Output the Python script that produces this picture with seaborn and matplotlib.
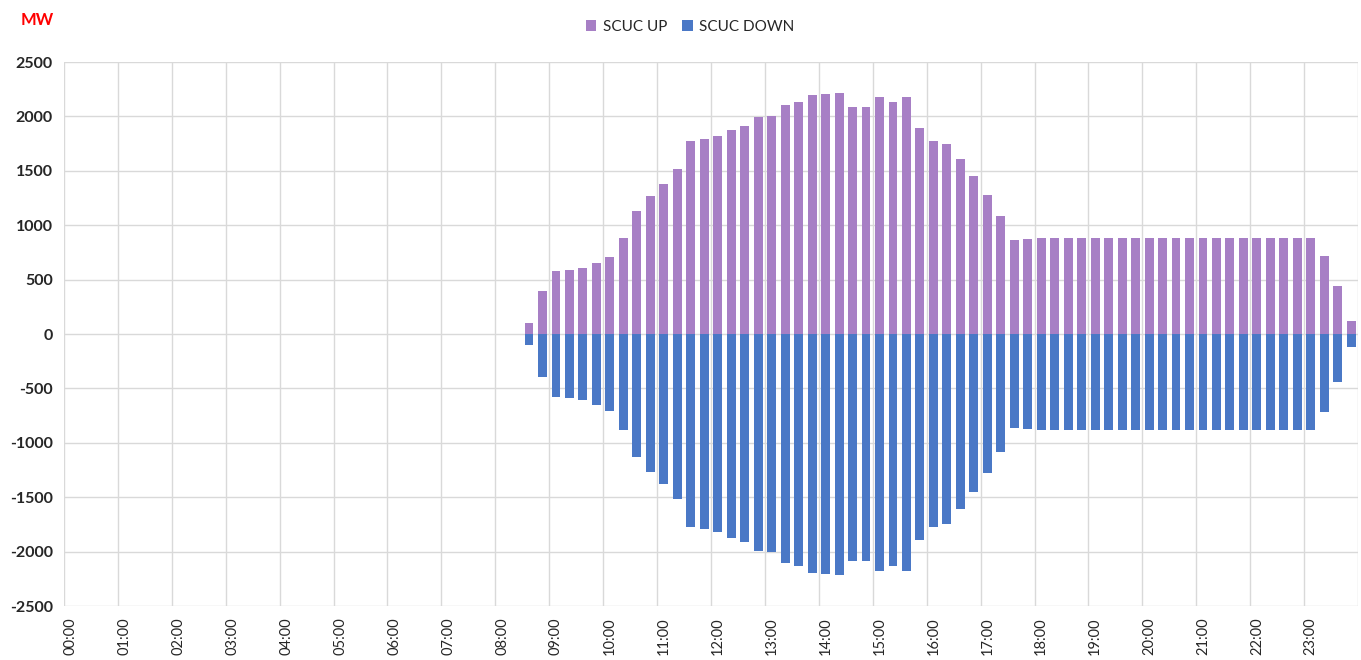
import seaborn as sns
import pandas as pd
import numpy as np
import matplotlib.pyplot as plt

# quarter-hour slots for one day
slots = ['%02d:%02d' % (h, m) for h in range(24) for m in (0, 15, 30, 45)]
hour_labels = ['%02d:00' % h for h in range(24)]

# SCUC UP (MW), 96 slots
scuc_up = [0] * 33 + [3, 105, 398,
           579, 588, 607, 653,
           710, 879, 1127, 1271,
           1379, 1519, 1777, 1795,
           1816, 1871, 1915, 1991,
           2006, 2107, 2129, 2193,
           2209, 2215, 2089, 2086,
           2175, 2132, 2175, 1896,
           1770, 1749, 1608, 1455,
           1274, 1087, 867, 876] + [882] * 21 + [713, 438, 116]

# SCUC DOWN (MW), 96 slots
scuc_down = [0] * 33 + [0, -105, -398,
             -579, -588, -607, -653,
             -710, -879, -1127, -1271,
             -1379, -1519, -1777, -1795,
             -1816, -1871, -1915, -1991,
             -2006, -2107, -2129, -2193,
             -2209, -2215, -2089, -2086,
             -2175, -2132, -2175, -1896,
             -1770, -1749, -1608, -1455,
             -1274, -1087, -867, -876] + [-882] * 21 + [-713, -438, -116]

df = pd.DataFrame({'time': slots, 'up': scuc_up, 'down': scuc_down})

sns.set_style('white')
plt.rcParams['font.family'] = ['Lato', 'DejaVu Sans']

fig = plt.figure(figsize=(13.61, 6.6), dpi=100)
ax = fig.add_axes([64 / 1361, 1 - 606 / 660, (1358 - 64) / 1361, (606 - 62) / 660])

grid_c = '#D9D9D9'
for y in range(-2500, 2501, 500):
    ax.axhline(y, color=grid_c, lw=1, zorder=0)
for k in range(0, 97, 4):
    ax.axvline(k - 0.5, color=grid_c, lw=1, zorder=0)

sns.barplot(data=df, x='time', y='up', color='#A77FC5', saturation=1,
            width=0.66, ax=ax, label='SCUC UP', linewidth=0, zorder=2)
sns.barplot(data=df, x='time', y='down', color='#4A78C6', saturation=1,
            width=0.66, ax=ax, label='SCUC DOWN', linewidth=0, zorder=2)

ax.set_xlim(-0.5, 95.5)
ax.set_ylim(-2500, 2500)
ax.set_yticks(range(-2500, 2501, 500))
ax.set_yticklabels([str(v) for v in range(-2500, 2501, 500)], fontsize=11.5, fontweight='bold')
ax.set_xticks(range(0, 96, 4))
ax.set_xticklabels(hour_labels, rotation=90, fontsize=10.5)
ax.tick_params(axis='both', length=0, pad=8)
ax.set_xlabel('')
ax.set_ylabel('')
for s in ax.spines.values():
    s.set_visible(False)

handles, labels = ax.get_legend_handles_labels()
if ax.legend_:
    ax.legend_.remove()
fig.legend(handles, labels, loc='center', bbox_to_anchor=(690 / 1361, 1 - 27 / 660),
           ncol=2, frameon=False, fontsize=11, handlelength=0.7, handleheight=0.7,
           columnspacing=1.0, handletextpad=0.4)

fig.text(37 / 1361, 1 - 20 / 660, 'MW', color='#FF0000', fontweight='bold',
         fontsize=12, ha='center', va='center')

fig.savefig('out.png', dpi=100)
